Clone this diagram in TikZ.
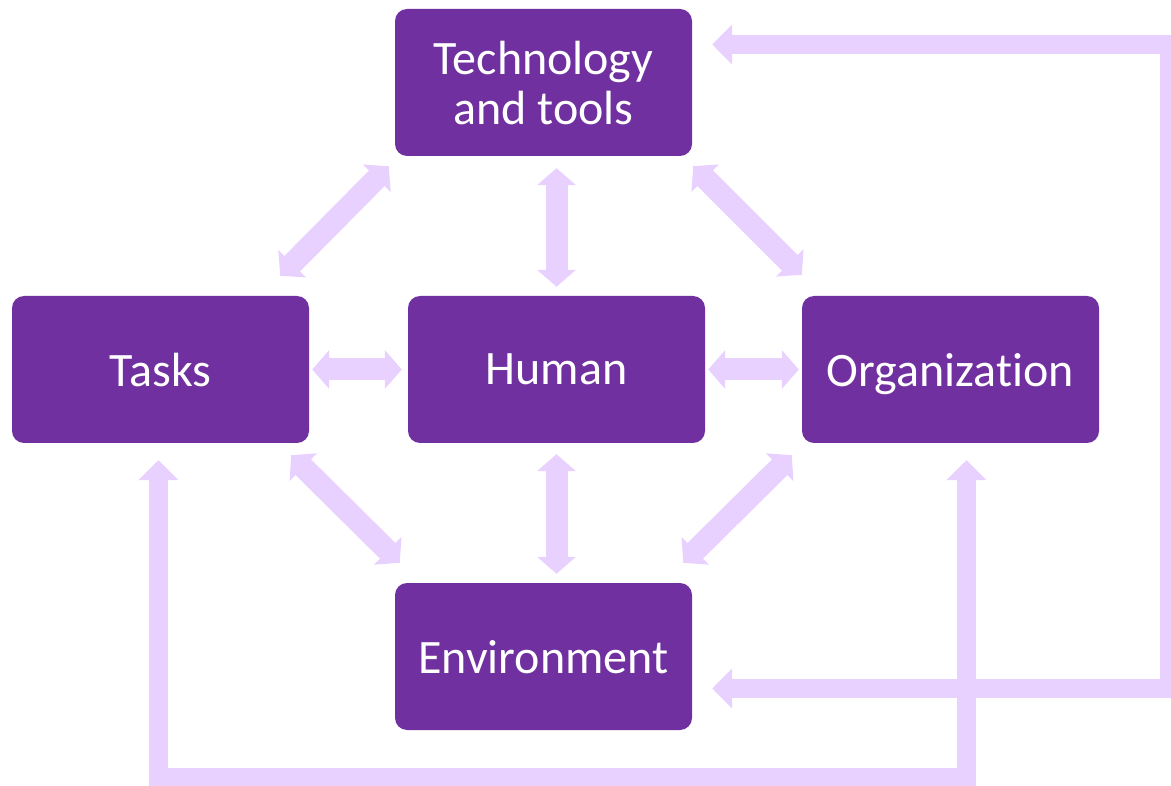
\documentclass[tikz,border=0pt]{standalone}
\usepackage{xcolor}
\usepackage{fontspec}
\setmainfont{Carlito}[Ligatures=NoCommon]
\usepackage{tikz}
\usetikzlibrary{arrows.meta}
\usetikzlibrary{calc}

\definecolor{boxpurple}{RGB}{112,48,160}
\definecolor{linklilac}{RGB}{233,209,255}

\begin{document}
\begin{tikzpicture}[
    x=1pt, y=-1pt,
    box/.style={fill=boxpurple, rounded corners=12pt, minimum width=297pt,
      minimum height=147pt, text=white, align=center, inner sep=0pt,
      text depth=0pt, font=\fontsize{48}{50}\selectfont},
    link/.style={draw=linklilac, line width=22pt,
      {Triangle[length=17pt, width=38pt]}-{Triangle[length=17pt, width=38pt]}},
    feedback/.style={draw=linklilac, line width=19pt,
      {Triangle[length=20pt, width=39pt]}-{Triangle[length=20pt, width=39pt]}}
  ]

    \useasboundingbox (0, 0) rectangle (1171, 786);
    \clip (0, 0) rectangle (1171, 786);

    \node [box] (tech)  at (543.5, 82.5)  {Technology\\and tools};
    \node [box] (tasks) at (160.5, 369.5) {Tasks};
    \node [box] (human) at (556.5, 369.5) {Human};
    \node [box] (org)   at (950.5, 369.5) {Organization};
    \node [box] (env)   at (543.5, 656.5) {Environment};

    % links around the human
    \draw [link] ([xshift=3pt]tasks.east) -- ([xshift=-6pt]human.west);
    \draw [link] ([xshift=3pt]human.east) -- ([xshift=-3pt]org.west);
    \draw [link] ([yshift=-12pt]tech.south -| human.north) -- ([yshift=9pt]human.north);
    \draw [link] ([yshift=-11pt]human.south) -- ([yshift=9pt]env.north -| human.south);

    % diagonal links
    \draw [link] ([shift={(-6pt,-10pt)}]tech.south west) -- ([shift={(-29pt,20pt)}]tasks.north east);
    \draw [link] ([shift={(1pt,-10pt)}]tech.south east) -- ([shift={(0pt,21pt)}]org.north west);
    \draw [link] ([shift={(-18pt,-12pt)}]tasks.south east) -- ([shift={(5pt,20pt)}]env.north west);
    \draw [link] ([shift={(-10pt,-12pt)}]org.south west) -- ([shift={(-9pt,20pt)}]env.north east);

    % outer feedback loops
    \coordinate (techin)  at ([xshift=20pt,yshift=38pt]tech.east);
    \coordinate (envin)   at ([xshift=20pt,yshift=-32pt]env.east);
    \coordinate (tasksin) at ([xshift=-2pt,yshift=-17pt]tasks.south);
    \coordinate (orgin)   at ([xshift=16pt,yshift=-17pt]org.south);
    \coordinate (rx) at (1169.5, 0);
    \coordinate (by) at (0, 777);

    \draw [feedback] (techin) -- (techin -| rx) |- (envin);
    \draw [feedback] (tasksin) -- (tasksin |- by) -| (orgin);

  \end{tikzpicture}
\end{document}
